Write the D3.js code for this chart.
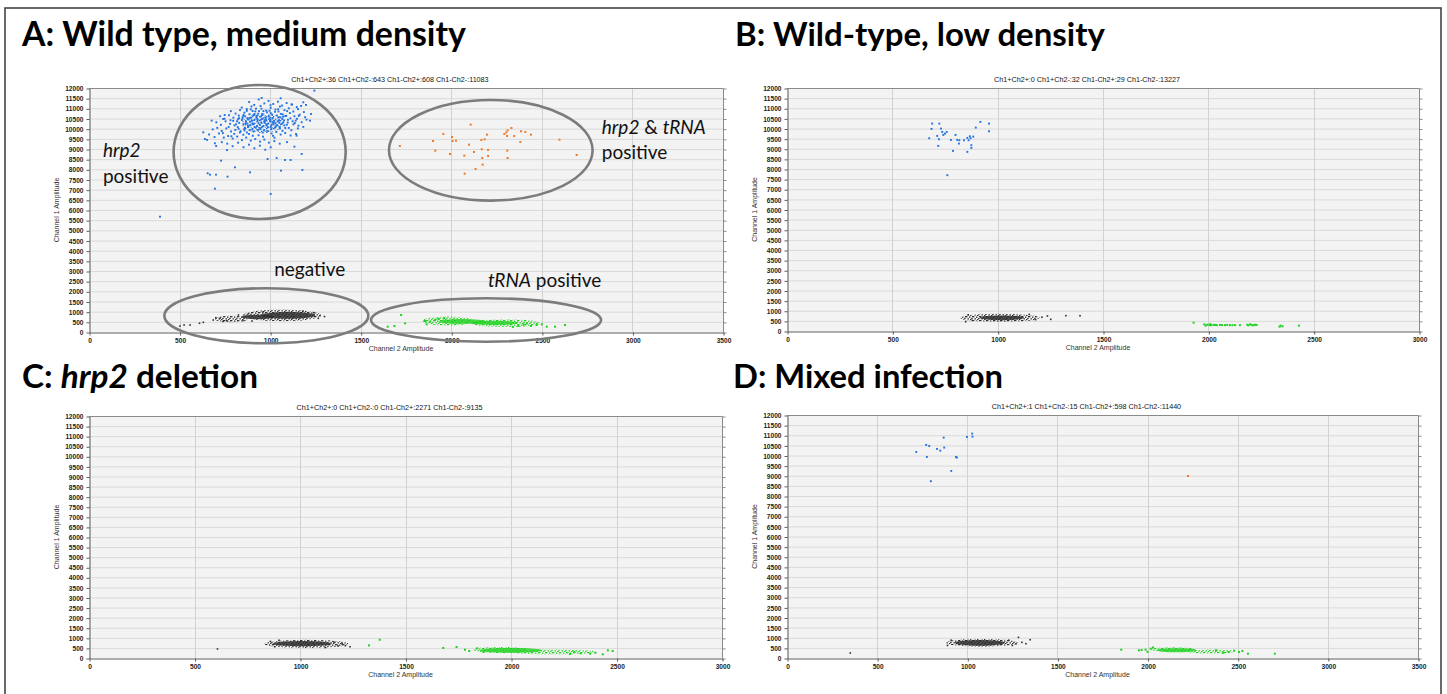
<!DOCTYPE html>
<html>
<head>
<meta charset="utf-8">
<script src="https://d3js.org/d3.v7.min.js"></script>
<style>
	body{margin:0;background:#fff;}
	svg{display:block;}
	text{white-space:pre;}
</style>
</head>
<body>
<script>
//whole figure lives in one self-executing function
(function(){

	//tick values shared by all four plots
	var yTicks = [0,500,1000,1500,2000,2500,3000,3500,4000,4500,5000,5500,6000,6500,7000,7500,8000,8500,9000,9500,10000,10500,11000,11500,12000];
	var xTicksLong = [0,500,1000,1500,2000,2500,3000,3500];
	var xTicksShort = [0,500,1000,1500,2000,2500,3000];

	//droplet counts printed over each plot: ch1+ch2+, ch1+ch2-, ch1-ch2+, ch1-ch2-
	var countsA = [36, 643, 608, 11083];
	var countsB = [0, 32, 29, 13227];
	var countsC = [0, 0, 2271, 9135];
	var countsD = [1, 15, 598, 11440];

	//panel headings, split where the gene name goes italic
	var headA = [["A: Wild type, medium density", false]];
	var headB = [["B: Wild-type, low density", false]];
	var headC = [["C: ", false], ["hrp2", true], [" deletion", false]];
	var headD = [["D: Mixed infection", false]];

	//A: channel 1 only droplets (blue), [ch2 amplitude, ch1 amplitude]
	var blueA = [[1244,11871],[953,11510],[1058,11494],[1183,11297],[1198,11166],[677,10395],[741,10477],[631,9821],[640,9493],[695,9280],
		[1226,10723],[1220,10395],[1156,10149],[1146,9657],[1134,9116],[1174,8755],[729,8427],[806,8099],[889,7853],[986,8509],
		[1036,8558],[1082,8460],[1113,8460],[1060,7935],[1178,7968],[655,7804],[668,7738],[701,7738],[765,7640],[695,7050],[1003,6787],[392,5671],
		[884,11312],[912,11168],[937,11437],[968,11241],[991,11366],[1017,11214],[1043,11329],[1066,11137],[1091,11262],[1118,11193],[1147,11061],[1171,11118],
		[843,11036],[871,10962],[897,11093],[922,10987],[947,11112],[978,10893],[1003,11024],[1029,10941],[1054,11088],[1079,10911],[1103,11002],[1128,10843],[1154,10962],[1186,10817],
		[783,10861],[809,10741],[834,10913],[858,10786],[886,10712],[903,10866],[934,10737],[957,10668],[983,10806],[1011,10693],[1027,10831],[1059,10727],[1083,10632],[1109,10768],[1134,10611],[1163,10689],[1193,10562],
		[724,10613],[748,10488],[773,10661],[797,10541],[823,10462],[849,10587],[874,10512],[899,10391],[923,10563],[948,10437],[973,10366],[997,10511],[1023,10388],[1048,10561],[1072,10312],[1098,10438],[1124,10362],[1148,10487],[1174,10316],
		[703,10314],[728,10186],[754,10362],[779,10238],[803,10161],[829,10287],[853,10213],[879,10088],[903,10262],[928,10137],[953,10061],[979,10213],[1004,10087],[1028,10262],[1053,10012],[1078,10162],[1103,10037],[1129,10212],[1153,10013],[1183,10087],
		[683,9963],[708,10038],[733,9887],[758,10013],[784,9862],[808,9937],[833,9812],[859,9913],[883,9737],[908,9862],[933,9937],[959,9812],[984,9887],[1008,9762],[1034,9837],[1058,9712],[1083,9787],[1113,9663],[1143,9737],
		[663,9713],[693,9588],[718,9763],[744,9562],[768,9638],[793,9513],[818,9612],[844,9437],[868,9562],[893,9413],[918,9488],[944,9362],[968,9463],[993,9313],[1023,9388],[1053,9263],[1093,9338],
		[733,9337],[763,9262],[793,9137],[823,9312],[853,9088],[883,9213],[913,9037],[943,9163],[973,8963],[1003,9087],
		[866,10347],[891,10176],[913,10427],[936,10271],[961,10124],[974,10553],[989,10246],[1013,10337],[1039,10177],[861,10044],[887,9927],[914,10083],[946,9973],[1067,10476],[1089,10624],
		[821,10076],[844,10424],[957,10726],[996,10884],[1046,10846],[781,10416],[802,9746],[1016,9648],[936,9676],[963,10864],[1141,10396],[1121,11184],[871,10876],[1201,10446],[652,9446],[702,9146],[762,8946],
		[862,10606],[886,10527],[907,10664],[929,10476],[949,10594],[969,10416],[993,10607],[1014,10524],[1037,10646],[1057,10556],[867,10264],[889,10344],[909,10226],[931,10394],[951,10304],[977,10464],[999,10376],[1019,10284],[1041,10364],[1063,10236],
		[857,9984],[877,10164],[901,9964],[921,10046],[943,10184],[967,9924],[987,10064],[1007,9984],[1031,10124],[1053,10084],[847,10504],[827,10644],[817,10364],[837,9874],[1077,10404],[1097,10304],[1069,10704],[1003,10764],[939,10864],[914,10724],
		[812,10212],[826,9992],[872,9811],[895,10542],[918,10853],[942,10032],[958,10491],[981,10146],[1002,10432],[1026,10048],[1049,10412],[1071,10587],[1092,10192],[1112,10507],[1136,10276],[1158,10631],
		[796,10386],[771,10082],[749,10671],[739,9781],[786,9626],[852,9702],[904,9651],[961,9607],[1024,9556],[1068,9892],[1117,9922],[1044,10954],[1094,10864],[1002,11152],[952,10981],[893,10953],
		[853,10672],[828,10517],[880,10451],[927,10627],[969,10293],[1009,10192],[1051,10303],[1084,10036]];
	//A: the packed middle of the blue cluster [centre x, centre y, half width, half height]
	var blueHazeA = [[960,10260,115,480]];
	//A: double positive droplets (orange)
	var orangeA = [[1716,9149],[1899,9395],[1912,8919],[1956,9739],[1993,8755],[2004,9591],[2007,9395],[2026,9411],[2072,8673],[2074,7788],
		[2098,9214],[2107,10198],[2125,8854],[2134,8017],[2166,9444],[2168,8985],[2171,8558],[2173,8231],[2184,9477],[2197,9706],
		[2203,8952],[2203,8657],[2293,9739],[2308,9640],[2311,9919],[2309,8919],[2311,8558],[2332,10034],[2347,9640],[2385,9870],
		[2381,9346],[2409,9837],[2440,9706],[2597,9460],[2692,8706],[2304,9821]];
	//A: channel 2 only droplets (green), loose ones and the spread of the dense streak
	var greenA = [[1649,262],[1686,295],[1723,836],[1745,426],[1855,541],[1864,377],[1883,508],[1911,590],[1929,639],[2371,295],
		[2417,426],[2472,344],[2500,377],[2527,262],[2573,262],[2628,344],[2440,300],[2400,360],[2340,250],[1960,680]];
	var greenHazeA = [[1980,540,140,220],[2300,430,190,190]];
	var greenCoreA = [[2060,520,130,120],[2240,450,130,100]];
	//A: negative droplets (black)
	var blackA = [[502,295],[525,344],[558,344],[631,475],[686,590],[723,672],[760,560],[825,836],[850,560],[1266,672],
		[1275,803],[1240,950],[1180,1020],[960,980],[880,900],[700,700],[740,520],[610,430],[1300,760],[900,540]];
	var blackHazeA = [[785,640,90,165],[1065,820,215,290]];
	var blackCoreA = [[1100,820,150,170],[930,740,90,110]];

	//B
	var blueB = [[675,9519],[689,10242],[686,9979],[723,10242],[713,9634],[721,9469],[718,9141],[731,9995],[737,9831],[742,9683],
		[750,9749],[758,9831],[761,7694],[778,9436],[788,8894],[800,9683],[808,9436],[818,9420],[816,9256],[840,9420],
		[856,9535],[856,8845],[862,9420],[868,9617],[871,9519],[875,9174],[875,9042],[896,10044],[918,10324],[959,10242],[959,9864],[884,9600]];
	var greenB = [[1930,411],[1981,329],[1987,264],[1995,310],[2005,300],[2012,280],[2024,300],[2032,300],[2040,290],[2055,300],
		[2065,290],[2079,290],[2090,300],[2103,290],[2115,290],[2127,290],[2150,290],[2185,310],[2190,280],[2198,330],
		[2206,300],[2214,280],[2222,310],[2229,300],[2338,214],[2343,264],[2430,264],[2352,230],[2010,340]];
	var blackB = [[848,460],[1236,740],[1252,575],[1324,755],[1391,755],[860,800],[1180,560],[1150,820],[1210,680],[880,520]];
	var blackHazeB = [[1010,650,190,200]];
	var blackCoreB = [[1020,650,105,120]];

	//C
	var greenC = [[1327,626],[1378,906],[1679,496],[1742,545],[1782,413],[1802,347],[2435,182],[2459,380],[2482,347],[2375,215],
		[2330,230],[2300,300],[1840,480],[1870,300],[2280,200],[2400,260]];
	var greenHazeC = [[1950,400,130,150],[2200,300,200,120]];
	var greenCoreC = [[2000,380,150,120]];
	var blackC = [[609,445],[1180,600],[1215,610],[1237,560],[1200,700],[860,820],[900,880],[1160,800],[880,560],[1120,520]];
	var blackHazeC = [[1030,700,200,200]];
	var blackCoreC = [[1010,710,140,130]];

	//D
	var blueD = [[717,10176],[772,10522],[789,10472],[776,9930],[832,10324],[850,10242],[869,10883],[872,10390],[798,8730],[911,9239],
		[937,9930],[942,9897],[998,10916],[1027,11081],[1029,10932]];
	var orangeD = [[2224,8988]];
	var greenD = [[1854,411],[1952,379],[1967,395],[1989,411],[2017,461],[2526,346],[2557,214],[2706,214],[2480,362],[2507,296],
		[2450,300],[2420,250],[2000,300],[2030,520],[2380,380]];
	var greenHazeD = [[2140,420,130,110],[2350,320,130,100]];
	var greenCoreD = [[2160,380,110,100]];
	var blackD = [[351,247],[1284,1019],[1303,773],[1325,707],[1349,904],[890,620],[910,880],[1250,620],[1230,880],[1270,700]];
	var blackHazeD = [[1080,750,200,190]];
	var blackCoreD = [[1070,750,140,140]];

	//A: hand drawn rings round the four clusters [centre x, centre y, half width, half height]
	var ringsA = [[942,8853,475,3296],[2218,8937,562,2474],[979,797,563,1353],[2192,590,635,1067]];
	//A: cluster labels, anchored at [x, y] in plot units, with italic parts
	var notesA = [
		{at: [77, 8608], parts: [["hrp2", true]]},
		{at: [77, 7329], parts: [["positive", false]]},
		{at: [1022, 2755], parts: [["negative", false]]},
		{at: [2831, 9739], parts: [["hrp2", true], [" & ", false], ["tRNA", true]]},
		{at: [2831, 8495], parts: [["positive", false]]},
		{at: [2202, 2213], parts: [["tRNA", true], [" positive", false]]}
	];

	//colours of the droplet clusters
	var colBlue = "#2272e0", colOrange = "#f07a26", colGreen = "#1fd21f", colBlack = "#2e2e2e";

	//where each plot sits on the page
	var panels = [
		{id: "A", left: 89, right: 723, top: 88, bottom: 332, headX: 22, headY: 46, headW: 444, xTicks: xTicksLong,
			head: headA, counts: countsA, blue: blueA, blueHaze: blueHazeA, orange: orangeA, green: greenA, greenHaze: greenHazeA, greenCore: greenCoreA,
			black: blackA, blackHaze: blackHazeA, blackCore: blackCoreA, rings: ringsA, notes: notesA},
		{id: "B", left: 787, right: 1419, top: 88, bottom: 331, headX: 735, headY: 46, headW: 370, xTicks: xTicksShort,
			head: headB, counts: countsB, blue: blueB, blueHaze: [], orange: [], green: greenB, greenHaze: [], greenCore: [],
			black: blackB, blackHaze: blackHazeB, blackCore: blackCoreB, rings: [], notes: []},
		{id: "C", left: 89, right: 722, top: 416, bottom: 658, headX: 22, headY: 388, headW: 236, xTicks: xTicksShort,
			head: headC, counts: countsC, blue: [], blueHaze: [], orange: [], green: greenC, greenHaze: greenHazeC, greenCore: greenCoreC,
			black: blackC, blackHaze: blackHazeC, blackCore: blackCoreC, rings: [], notes: []},
		{id: "D", left: 787, right: 1418, top: 415, bottom: 658, headX: 733, headY: 388, headW: 270, xTicks: xTicksLong,
			head: headD, counts: countsD, blue: blueD, blueHaze: [], orange: orangeD, green: greenD, greenHaze: greenHazeD, greenCore: greenCoreD,
			black: blackD, blackHaze: blackHazeD, blackCore: blackCoreD, rings: [], notes: []}
	];

	var svg = d3.select("body")
		.append("svg")
		.attr("width", 1447)
		.attr("height", 694);

	//stipple patterns that stand in for the thousands of overlapping droplets
	var defs = svg.append("defs");
	var spotsDense = [[0,0],[3,0.5],[5.2,1.8],[1.5,2.2],[4,3],[6,0]];
	var spotsLoose = [[0,0],[4.2,1.1],[2,2.6],[5.6,3.4]];
	addStipple("stippleBlack", colBlack, spotsDense);
	addStipple("stippleGreen", colGreen, spotsDense);
	addStipple("stippleBlue", colBlue, spotsLoose);

	//frame round the whole figure
	svg.append("rect")
		.attr("x", 5).attr("y", 8)
		.attr("width", 1436).attr("height", 700)
		.attr("fill", "none")
		.attr("stroke", "#444")
		.attr("stroke-width", 1.6);

	panels.forEach(drawPanel);

	function addStipple(id, color, spots){
		var pat = defs.append("pattern")
			.attr("id", id)
			.attr("patternUnits", "userSpaceOnUse")
			.attr("width", 7).attr("height", 4);
		//a few uneven dots per tile so the fill does not look like a grid
		pat.selectAll("rect").data(spots).enter().append("rect")
			.attr("x", function(d){ return d[0]; })
			.attr("y", function(d){ return d[1]; })
			.attr("width", 1.4).attr("height", 1.3)
			.attr("fill", color);
	}

	//draws one plot with its heading, grid, axes and droplets
	function drawPanel(p){
		var xMax = p.xTicks[p.xTicks.length - 1];
		var x = d3.scaleLinear().domain([0, xMax]).range([p.left, p.right]);
		var y = d3.scaleLinear().domain([0, 12000]).range([p.bottom, p.top]);
		var g = svg.append("g").attr("class", "panel" + p.id);

		//heading, sized to the width it has in the figure
		var head = g.append("text")
			.attr("x", p.headX).attr("y", p.headY)
			.attr("font-family", "Lato, 'Open Sans', sans-serif")
			.attr("font-weight", "bold")
			.attr("font-size", 30)
			.attr("fill", "#000");
		head.selectAll("tspan").data(p.head).enter().append("tspan")
			.attr("font-style", function(d){ return d[1] ? "italic" : "normal"; })
			.text(function(d){ return d[0]; });
		var w = head.node().getComputedTextLength();
		if (w > 0) head.attr("font-size", 30 * p.headW / w);

		//droplet counts line
		var c = p.counts;
		g.append("text")
			.attr("x", (p.left - 32 + p.right) / 2)
			.attr("y", p.top - 6)
			.attr("text-anchor", "middle")
			.attr("font-family", "'Liberation Sans', Arial, sans-serif")
			.attr("font-size", 7.2)
			.attr("fill", "#111")
			.text("Ch1+Ch2+:" + c[0] + " Ch1+Ch2-:" + c[1] + " Ch1-Ch2+:" + c[2] + " Ch1-Ch2-:" + c[3]);

		//plot background
		g.append("rect")
			.attr("x", p.left).attr("y", p.top)
			.attr("width", p.right - p.left).attr("height", p.bottom - p.top)
			.attr("fill", "#f3f3f3");

		//grid lines
		g.selectAll(".hgrid").data(yTicks.slice(1)).enter().append("line")
			.attr("x1", p.left).attr("x2", p.right)
			.attr("y1", function(d){ return y(d) + 0.5; })
			.attr("y2", function(d){ return y(d) + 0.5; })
			.attr("stroke", "#dadada");
		g.selectAll(".vgrid").data(p.xTicks.slice(1, -1)).enter().append("line")
			.attr("x1", function(d){ return Math.round(x(d)) + 0.5; })
			.attr("x2", function(d){ return Math.round(x(d)) + 0.5; })
			.attr("y1", p.top).attr("y2", p.bottom)
			.attr("stroke", "#d2d2d2");

		//dense droplet clouds, loose halo first then the packed middle
		cloud(g, p.blackHaze, "url(#stippleBlack)", 1, x, y);
		cloud(g, p.blackCore, colBlack, 0.85, x, y);
		cloud(g, p.greenHaze, "url(#stippleGreen)", 1, x, y);
		cloud(g, p.greenCore, colGreen, 0.8, x, y);
		cloud(g, p.blueHaze, "url(#stippleBlue)", 1, x, y);

		//single droplets
		dots(g, p.black, colBlack, 1.6, x, y);
		dots(g, p.green, colGreen, 2, x, y);
		dots(g, p.blue, colBlue, 1.9, x, y);
		dots(g, p.orange, colOrange, 2, x, y);

		//frame on top and right side with the small outer ticks
		g.append("path")
			.attr("d", "M" + p.left + "," + (p.top + 0.5) + "H" + (p.right + 0.5) + "V" + p.bottom)
			.attr("fill", "none")
			.attr("stroke", "#8a8a8a");
		var right = g.append("g")
			.attr("transform", "translate(" + (p.right + 0.5) + ",0.5)")
			.call(d3.axisRight(y).tickValues(yTicks).tickSize(3).tickFormat(""));
		right.select(".domain").remove();
		right.selectAll("line").attr("stroke", "#8a8a8a");

		//left and bottom axes, plain numbers without thousands commas
		var yAxis = g.append("g")
			.attr("transform", "translate(" + (p.left + 0.5) + ",0.5)")
			.call(d3.axisLeft(y).tickValues(yTicks).tickFormat(d3.format("d")).tickSize(3).tickPadding(3).tickSizeOuter(0));
		var xAxis = g.append("g")
			.attr("transform", "translate(0.5," + (p.bottom + 0.5) + ")")
			.call(d3.axisBottom(x).tickValues(p.xTicks).tickFormat(d3.format("d")).tickSize(3).tickPadding(3).tickSizeOuter(0));
		[yAxis, xAxis].forEach(function(a){
			a.select(".domain").attr("stroke", "#5a5a5a");
			a.selectAll(".tick line").attr("stroke", "#5a5a5a");
			a.selectAll("text")
				.attr("font-family", "'Liberation Sans', Arial, sans-serif")
				.attr("font-weight", "bold")
				.attr("font-size", 6.6)
				.attr("fill", "#222");
		});

		//axis titles
		g.append("text")
			.attr("transform", "translate(" + (p.left - 30) + "," + ((p.top + p.bottom) / 2) + ") rotate(-90)")
			.attr("text-anchor", "middle")
			.attr("font-family", "'Liberation Sans', Arial, sans-serif")
			.attr("font-size", 7)
			.attr("fill", "#333")
			.text("Channel 1 Amplitude");
		g.append("text")
			.attr("x", (p.left + p.right) / 2 - 5)
			.attr("y", p.bottom + 19)
			.attr("text-anchor", "middle")
			.attr("font-family", "'Liberation Sans', Arial, sans-serif")
			.attr("font-size", 7)
			.attr("fill", "#333")
			.text("Channel 2 Amplitude");

		//rings and labels marking the clusters
		g.selectAll(".ring").data(p.rings).enter().append("ellipse")
			.attr("cx", function(d){ return x(d[0]); })
			.attr("cy", function(d){ return y(d[1]); })
			.attr("rx", function(d){ return x(d[2]) - x(0); })
			.attr("ry", function(d){ return y(0) - y(d[3]); })
			.attr("fill", "none")
			.attr("stroke", "#7c7c7c")
			.attr("stroke-width", 2.6);
		var notes = g.selectAll(".note").data(p.notes).enter().append("text")
			.attr("x", function(d){ return x(d.at[0]); })
			.attr("y", function(d){ return y(d.at[1]); })
			.attr("font-family", "Lato, 'Open Sans', sans-serif")
			.attr("font-size", 19)
			.attr("fill", "#111");
		notes.selectAll("tspan").data(function(d){ return d.parts; }).enter().append("tspan")
			.attr("font-style", function(d){ return d[1] ? "italic" : "normal"; })
			.text(function(d){ return d[0]; });
	}

	//ellipses for packed droplets, sized in plot units
	function cloud(g, list, fill, opacity, x, y){
		g.selectAll(null).data(list).enter().append("ellipse")
			.attr("cx", function(d){ return x(d[0]); })
			.attr("cy", function(d){ return y(d[1]); })
			.attr("rx", function(d){ return x(d[2]) - x(0); })
			.attr("ry", function(d){ return y(0) - y(d[3]); })
			.attr("fill", fill)
			.attr("fill-opacity", opacity);
	}

	//small square droplets
	function dots(g, list, color, size, x, y){
		g.selectAll(null).data(list).enter().append("rect")
			.attr("x", function(d){ return x(d[0]) - size / 2; })
			.attr("y", function(d){ return y(d[1]) - size / 2; })
			.attr("width", size).attr("height", size)
			.attr("fill", color);
	}

})();
</script>
</body>
</html>
